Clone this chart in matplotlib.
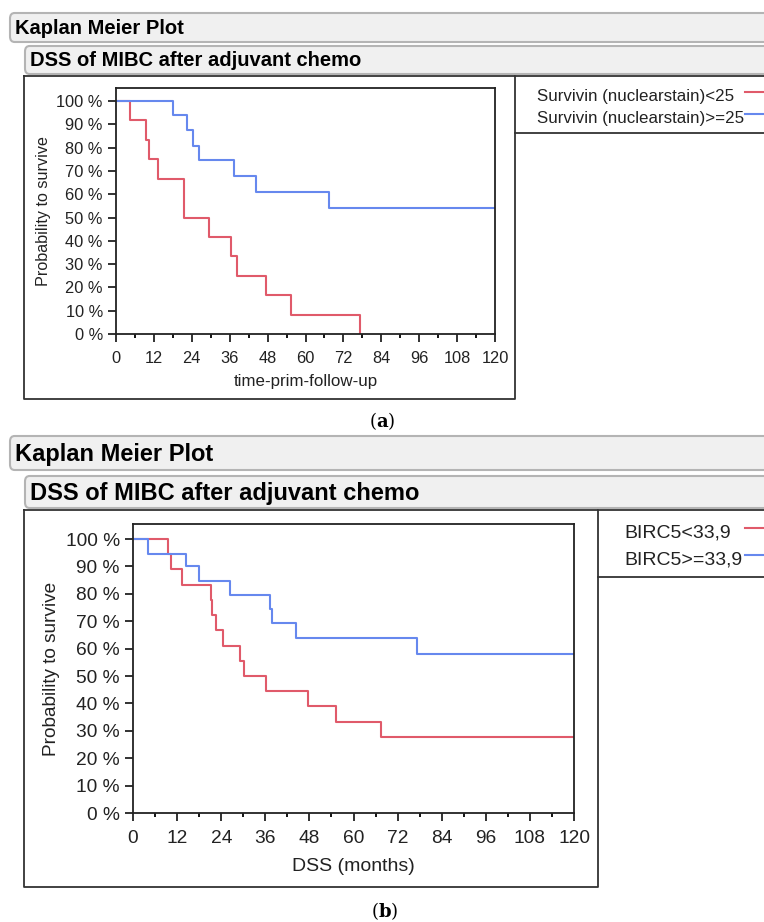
import matplotlib.pyplot as plt
from matplotlib.patches import FancyBboxPatch
from matplotlib.lines import Line2D
import numpy as np

W, H = 764, 922

# Panel (a): Survivin nuclear stain
a_low_t = [0, 4.5, 9.6, 10.3, 13.3, 21.4, 29.4, 36.5, 38.2, 47.5, 55.3, 77.3]
a_low_s = [100, 91.7, 83.3, 75.0, 66.7, 50.0, 41.7, 33.3, 25.0, 16.7, 8.3, 0]
a_high_t = [0, 18.0, 22.6, 24.3, 26.2, 37.3, 44.2, 67.4, 120]
a_high_s = [100, 93.8, 87.5, 80.9, 74.8, 67.9, 60.8, 54.3, 54.3]
a_labels = ["Survivin (nuclearstain)<25", "Survivin (nuclearstain)>=25"]

# Panel (b): BIRC5
b_low_t = [0, 9.5, 10.3, 13.3, 21.2, 21.6, 22.5, 24.4, 29.2, 30.2, 36.3, 47.5, 55.3, 67.4, 120]
b_low_s = [100, 94.4, 88.9, 83.3, 77.8, 72.2, 66.7, 61.1, 55.6, 50.0, 44.4, 38.9, 33.3, 27.8, 27.8]
b_high_t = [0, 4.2, 14.3, 18.0, 26.3, 37.3, 37.9, 44.3, 77.4, 120]
b_high_s = [100, 94.7, 90.0, 84.8, 79.6, 74.6, 69.3, 63.8, 58.0, 58.0]
b_labels = ["BIRC5<33,9", "BIRC5>=33,9"]

x_ticks = np.arange(0, 121, 12)
y_ticks = np.arange(0, 101, 10)

RED = "#e05a6a"
BLUE = "#6688ee"
SANS = ["Liberation Sans", "DejaVu Sans"]

fig = plt.figure(figsize=(W / 100, H / 100), dpi=100)


def fx(px):
    return px / W


def fy(py):
    return 1 - py / H


def box_px(left, top, right, bottom):
    return [fx(left), fy(bottom), fx(right) - fx(left), fy(top) - fy(bottom)]


def header(left, top, right, bottom, text, fs):
    p = FancyBboxPatch((fx(left), fy(bottom)), fx(right) - fx(left), fy(top) - fy(bottom),
                       boxstyle="round,pad=0,rounding_size=0.006", transform=fig.transFigure,
                       facecolor="#f0f0f0", edgecolor="#b4b4b4", linewidth=1.5)
    fig.add_artist(p)
    fig.text(fx(left + 5), fy((top + bottom) / 2 + 1), text, fontsize=fs, fontweight="bold",
             family=SANS, va="center", ha="left")


def frame_line(xs, ys, lw=1.3):
    fig.add_artist(Line2D([fx(x) for x in xs], [fy(y) for y in ys], color="#333333",
                          linewidth=lw, transform=fig.transFigure))


def km_panel(rect, top_ylim, low_t, low_s, high_t, high_s, fs, xlabel, xlabel_fs, ylabel_fs, xpad):
    ax = fig.add_axes(rect)
    ax.step(low_t, low_s, where="post", color=RED, linewidth=1.5)
    ax.step(high_t, high_s, where="post", color=BLUE, linewidth=1.5)
    ax.set_xlim(0, 120)
    ax.set_ylim(0, top_ylim)
    ax.set_xticks(x_ticks)
    ax.set_xticks(np.arange(6, 120, 12), minor=True)
    ax.set_yticks(y_ticks)
    ax.set_yticklabels([f"{v} %" for v in y_ticks])
    ax.tick_params(axis="both", which="major", direction="out", length=6, width=1.3,
                   labelsize=fs, color="#222222", labelcolor="#222222")
    ax.tick_params(axis="x", which="major", pad=6)
    ax.tick_params(axis="x", which="minor", direction="out", length=3, width=1.3)
    for lab in ax.get_xticklabels() + ax.get_yticklabels():
        lab.set_family(SANS)
    for sp in ax.spines.values():
        sp.set_linewidth(1.3)
        sp.set_color("#222222")
    ax.set_xlabel(xlabel, fontsize=xlabel_fs, family=SANS, color="#222222", labelpad=xpad)
    ax.set_ylabel("Probability to survive", fontsize=ylabel_fs, family=SANS,
                  color="#222222", labelpad=4)
    return ax


def legend_block(x_text, y1, y2, labels, fs):
    fig.text(fx(x_text), fy(y1), labels[0], fontsize=fs, family=SANS, va="center", color="#222222")
    fig.text(fx(x_text), fy(y2), labels[1], fontsize=fs, family=SANS, va="center", color="#222222")
    fig.add_artist(Line2D([fx(745), fx(764)], [fy(y1 - 5), fy(y1 - 5)], color=RED,
                          linewidth=1.5, transform=fig.transFigure))
    fig.add_artist(Line2D([fx(745), fx(764)], [fy(y2 - 5), fy(y2 - 5)], color=BLUE,
                          linewidth=1.5, transform=fig.transFigure))


# ---------- panel (a) ----------
header(10, 13, 770, 42, "Kaplan Meier Plot", 14.5)
header(25, 46, 770, 74, "DSS of MIBC after adjuvant chemo", 14.5)
frame_line([24, 24, 515, 515, 24], [76, 399, 399, 76, 76])
frame_line([515, 764], [76, 76])
frame_line([515, 764], [133, 133])
km_panel(box_px(116, 88, 495, 334), 105.6, a_low_t, a_low_s, a_high_t, a_high_s,
         11.8, "time-prim-follow-up", 12.2, 11.6, 6)
legend_block(537, 97, 119, a_labels, 12.2)
fig.text(fx(382), fy(421), r"($\mathbf{a}$)", fontsize=13, ha="center", va="center",
         family="DejaVu Serif", math_fontfamily="dejavuserif")

# ---------- panel (b) ----------
header(10, 436, 770, 470, "Kaplan Meier Plot", 17)
header(25, 476, 770, 508, "DSS of MIBC after adjuvant chemo", 17)
frame_line([24, 24, 598, 598, 24], [510, 887, 887, 510, 510])
frame_line([598, 764], [510, 510])
frame_line([598, 764], [577, 577])
km_panel(box_px(133, 524, 574, 813), 105.5, b_low_t, b_low_s, b_high_t, b_high_s,
         13.8, "DSS (months)", 14, 13.7, 8)
legend_block(624, 533, 560, b_labels, 14)
fig.text(fx(385), fy(911), r"($\mathbf{b}$)", fontsize=13, ha="center", va="center",
         family="DejaVu Serif", math_fontfamily="dejavuserif")

fig.savefig("out.png", dpi=100)
